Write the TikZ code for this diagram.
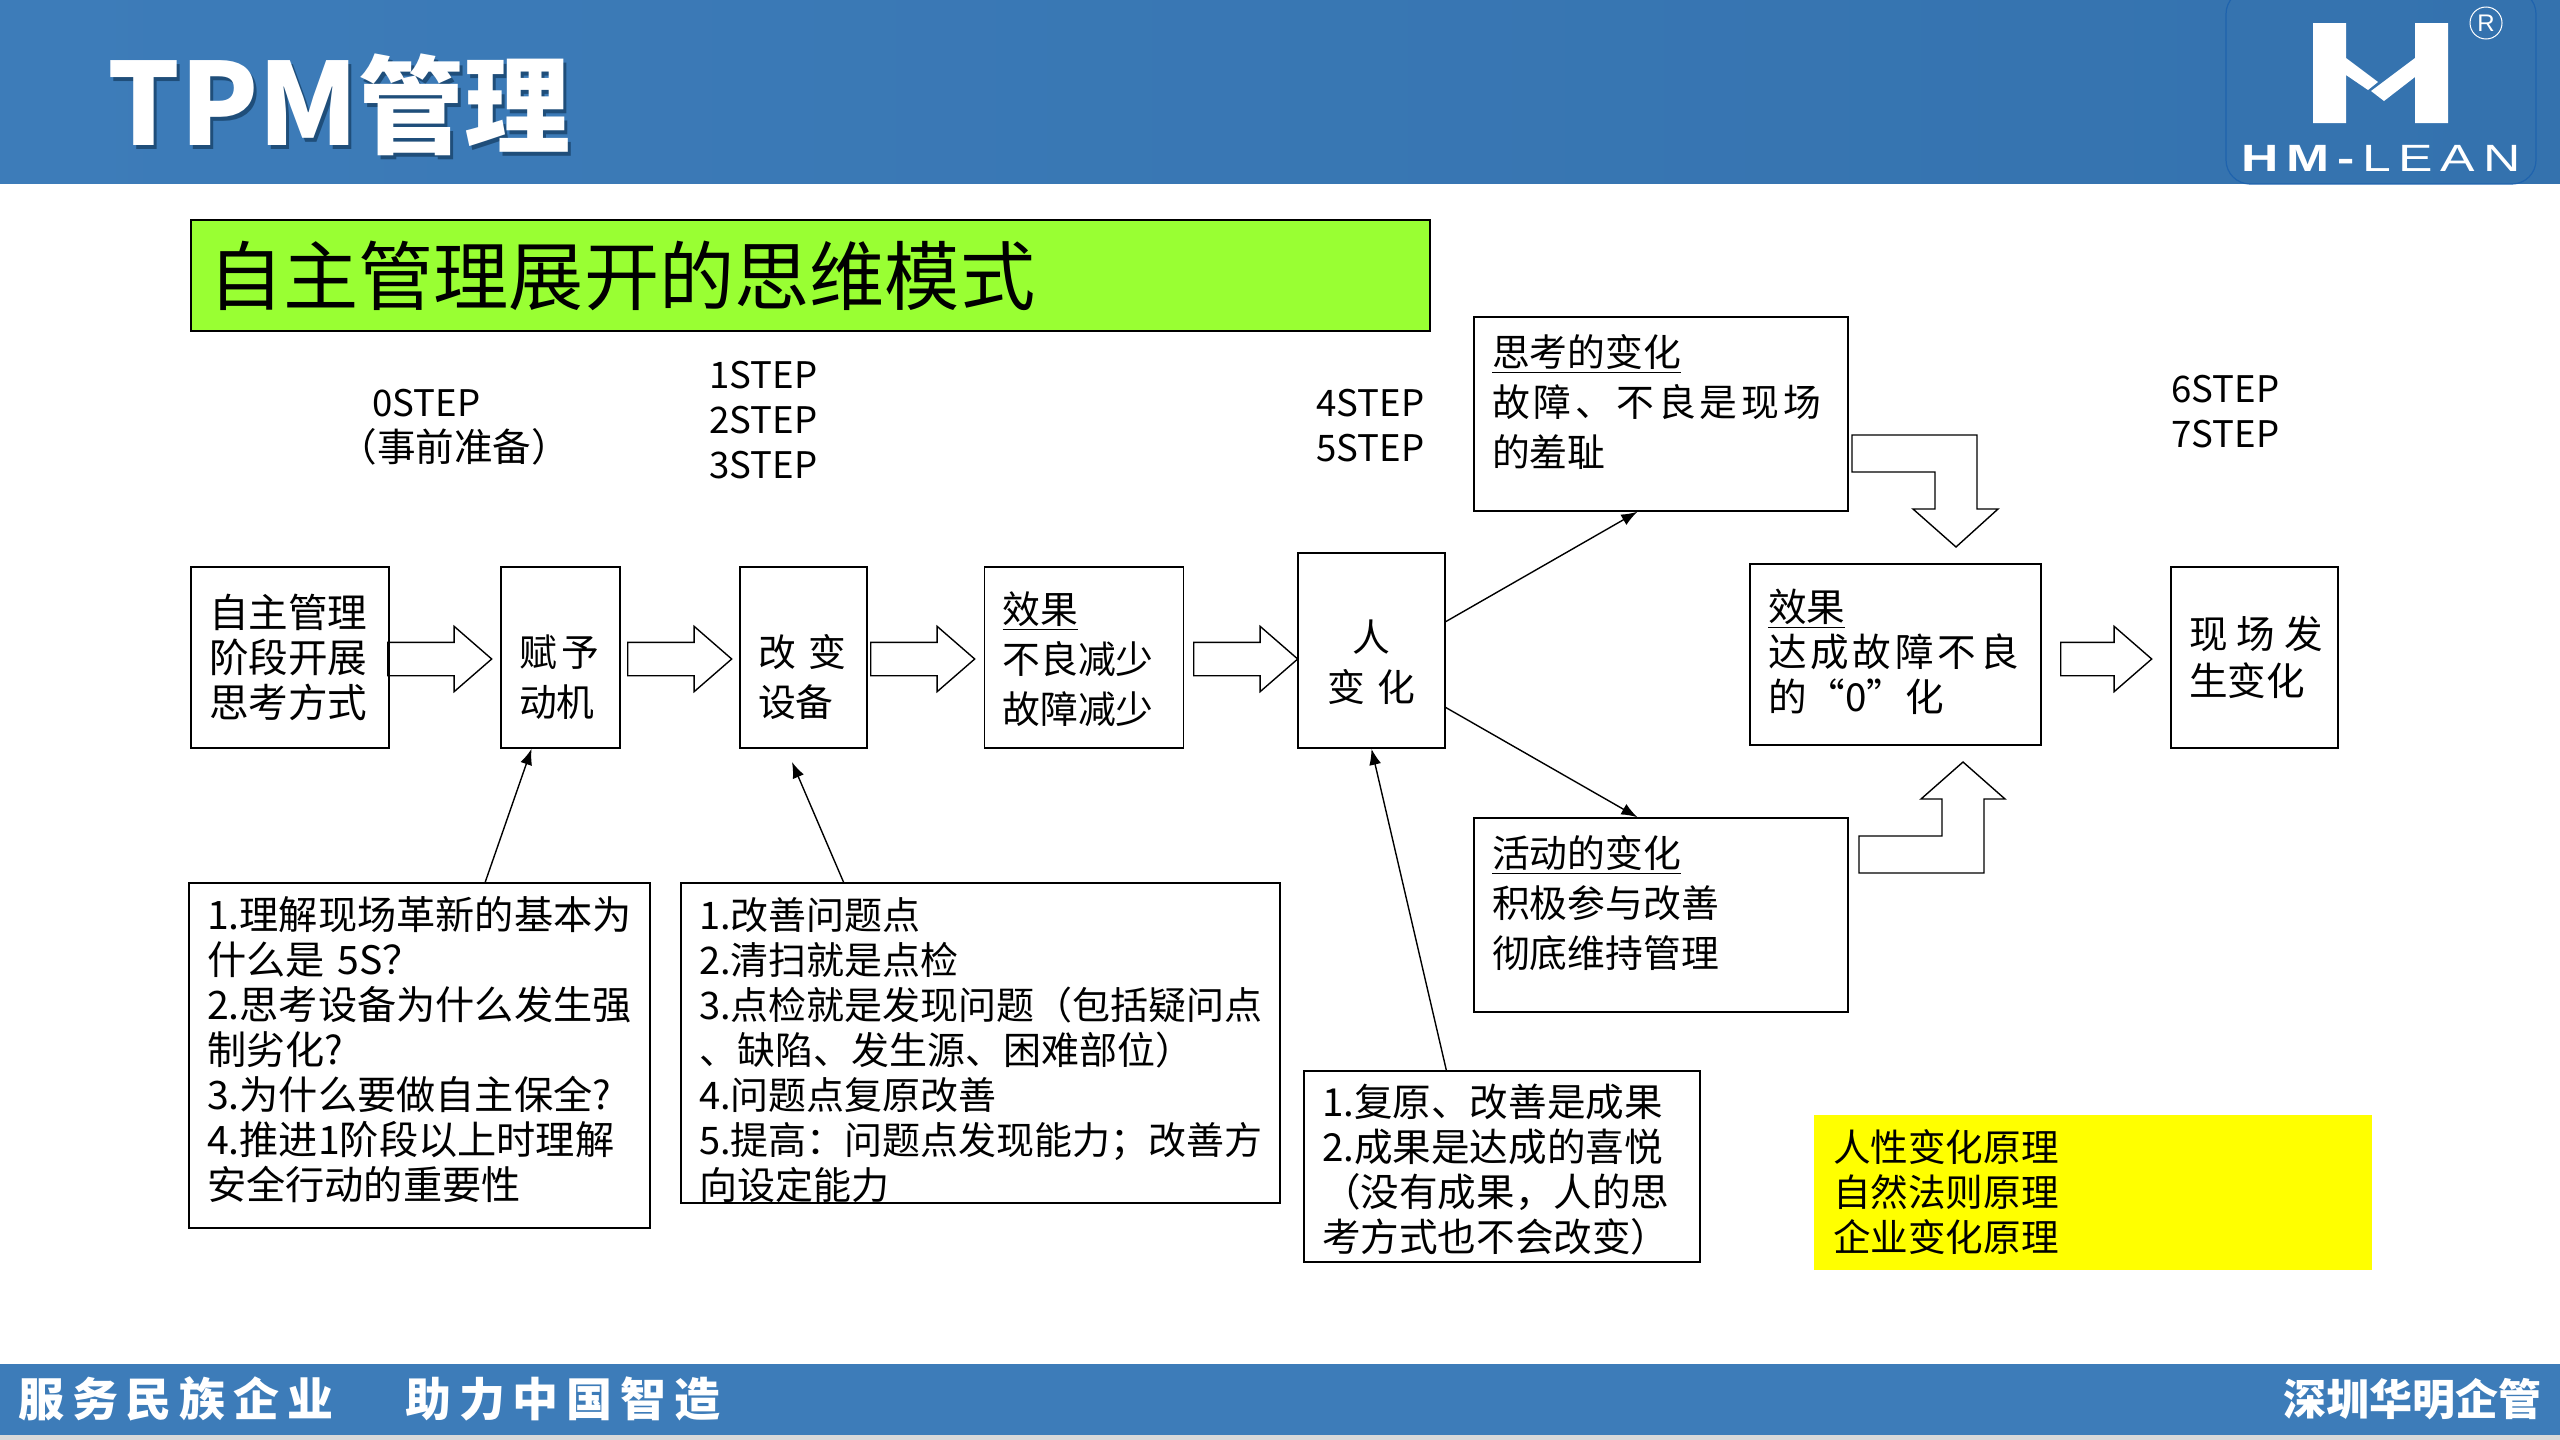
\documentclass[tikz,border=0pt]{standalone}
\usepackage{fontspec}
\setmainfont{Noto Sans CJK SC}
\newfontfamily\spfont[LetterSpace=10]{Noto Sans CJK SC}
\newfontfamily\footfont[LetterSpace=17]{Noto Sans CJK SC}
\newfontfamily\logofont[LetterSpace=15]{Liberation Sans}
\usetikzlibrary{arrows.meta,calc,shapes.arrows}
\definecolor{headblue}{HTML}{3D7CB9}
\definecolor{headdark}{HTML}{3472AE}
\definecolor{logoline}{HTML}{1F63AD}
\definecolor{titlegreen}{HTML}{99FF33}
\definecolor{noteyellow}{HTML}{FFFF00}
\definecolor{footgray}{HTML}{D9D9D9}
\definecolor{titleshadow}{HTML}{1F4E7A}
\tikzset{
  bodytext/.style={font=\fontsize{19.3}{22.5}\selectfont, align=left, inner sep=0pt},
  steptext/.style={bodytext, anchor=west, font=\fontsize{18.3}{22.5}\selectfont},
  textbox/.style n args={2}{draw, line width=.8pt, bodytext, inner xsep=9pt, inner ysep=0pt,
    minimum width=#1, minimum height=#2, text width=#1-18pt},
  widebox/.style n args={2}{textbox={#1}{#2}, font=\fontsize{18.9}{25}\selectfont},
  blockarrow/.style={draw, line width=.7pt, single arrow, anchor=tail, inner xsep=0pt, inner ysep=8pt,
    minimum width=32pt, single arrow head extend=8pt, single arrow tip angle=82},
  bentarrow/.style={draw, line width=.7pt, line join=miter},
  thinarrow/.style={line width=.7pt, -{Latex[length=8pt,width=6pt]}},
  footline/.style={font=\fontsize{23}{25}\selectfont\bfseries\footfont, text=white, inner sep=0pt, anchor=west}
}
\begin{document}
\begin{tikzpicture}[x=.5pt,y=-.5pt]
\useasboundingbox (0,0) rectangle (2560,1440);

% header and footer bands
\fill[left color=headblue, right color=headdark] (0,0) rectangle (2560,183);
\fill[headblue] (0,1364) rectangle (2560,1435);
\fill[footgray] (0,1435) rectangle (2560,1440);

\node[anchor=west, inner sep=0pt, text=white, font=\bfseries] (htitle) at (107,107)
  {\rlap{\kern1.5pt\raisebox{-1.8pt}{\color{titleshadow}\fontsize{57}{60}\selectfont TPM\fontsize{53}{60}\selectfont 管理}}\fontsize{57}{60}\selectfont TPM\fontsize{53}{60}\selectfont 管理};

% logo
\draw[logoline, line width=.6pt, rounded corners=12pt] (2226,-10) rectangle (2536,184);
\fill[white] (2313,23) -- (2346,23) -- (2346,58) -- (2378,82) -- (2368,90) -- (2346,75) -- (2346,123) -- (2313,123) -- cycle;
\fill[white] (2415,23) -- (2448,23) -- (2448,123) -- (2415,123) -- (2415,77) -- (2384,101) -- (2371,91) -- (2415,58) -- cycle;
\node[circle, draw=white, line width=.5pt, inner sep=0pt, minimum size=16pt, text=white,
  font=\fontsize{12}{12}\selectfont\logofont] (regmark) at (2486,23) {R};
\node[anchor=west, inner sep=0pt, text=white, font=\fontsize{19}{20}\selectfont\logofont] (logotext) at (2241,158)
  {\scalebox{1.36}[1]{\textbf{HM-}LEAN}};

\node[footline] (foot1) at (18,1399) {服务民族企业};
\node[footline] (foot2) at (405,1399) {助力中国智造};
\node[anchor=east, inner sep=0pt, text=white, font=\fontsize{21.5}{25}\selectfont\bfseries] (foot3) at (2542,1399) {深圳华明企管};

% title
\node[draw, line width=.8pt, fill=titlegreen, minimum width=619.5pt, minimum height=55.5pt,
  inner xsep=8.5pt, inner ysep=0pt, text width=602.5pt, align=left,
  font=\fontsize{37.6}{40}\selectfont] (maintitle) at (810.5,275.5) {自主管理展开的思维模式};

% step labels
\node[steptext] (step0) at (338,427) {\hspace{17pt}0STEP\\{\fontsize{19.3}{23}\selectfont（事前准备）}};
\node[steptext] (step1) at (709,420) {1STEP\\2STEP\\3STEP};
\node[steptext] (step4) at (1316,426) {4STEP\\5STEP};
\node[steptext] (step6) at (2171,412) {6STEP\\7STEP};

% main row
\node[textbox={99pt}{90.5pt}, font=\fontsize{19.8}{22.5}\selectfont] (start) at (290,657.5) {自主管理\\阶段开展\\思考方式};
\node[widebox={59.5pt}{90.5pt}] (motive) at (560.5,657.5) {\rule{0pt}{36pt}\mbox{赋\hspace{2.5pt}予}\\动机};
\node[widebox={63.5pt}{90.5pt}] (equip) at (803.5,657.5) {\rule{0pt}{36pt}\mbox{改 变}\\设备};
\node[widebox={99.5pt}{90.5pt}] (effect) at (1084,657.5) {\rule{0pt}{17.6pt}\underline{效果}\\不良减少\\故障减少};
\node[widebox={73.5pt}{97.5pt}, align=center] (people) at (1371.5,650.5) {\rule{0pt}{28pt}人\\变 化};
\node[textbox={145.5pt}{90.5pt}] (zero) at (1895.5,654.5) {\underline{效果}\\{\spfont 达成故障不良}\\的“0”化\rule[-4.6pt]{0pt}{0pt}};
\node[textbox={83.5pt}{90.5pt}, font=\fontsize{19.3}{23.7}\selectfont] (change) at (2254.5,657.5) {\mbox{现\hspace{4.5pt}场\hspace{4.5pt}发}\\生变化};

% upper and lower branches
\node[widebox={187pt}{97pt}] (think) at (1661,414) {\underline{思考的变化}\\{\spfont 故障、不良是现场}\\的羞耻\rule[-13.6pt]{0pt}{0pt}};
\node[widebox={187pt}{97pt}] (active) at (1661,915) {\underline{活动的变化}\\积极参与改善\\彻底维持管理\rule[-13.6pt]{0pt}{0pt}};

% notes
\node[textbox={230.5pt}{172.5pt}, font=\fontsize{19.6}{22.5}\selectfont] (note1) at (419.5,1055.5) {1.理解现场革新的基本为\\什么是 5S？\\2.思考设备为什么发生强\\制劣化?\\3.为什么要做自主保全?\\4.推进1阶段以上时理解\\安全行动的重要性\rule[-8pt]{0pt}{0pt}};
\node[textbox={299.5pt}{160pt}, font=\fontsize{19}{22.5}\selectfont] (note2) at (980.5,1043) {\rule{0pt}{23.4pt}1.改善问题点\\2.清扫就是点检\\3.点检就是发现问题（包括疑问点\\、缺陷、发生源、困难部位）\\4.问题点复原改善\\5.提高：问题点发现能力；改善方\\向设定能力};
\node[textbox={198pt}{95.5pt}] (note3) at (1502,1166.5) {\rule{0pt}{19.2pt}1.复原、改善是成果\\2.成果是达成的喜悦\\（没有成果，人的思\\考方式也不会改变）};
\node[fill=noteyellow, bodytext, font=\fontsize{18.8}{22.5}\selectfont, inner xsep=9.5pt, inner ysep=0pt, minimum width=279pt, minimum height=77.5pt,
  text width=260pt] (rules) at (2093,1192.5) {人性变化原理\\自然法则原理\\企业变化原理};

% hollow arrows
\foreach \x/\name in {387/ar1, 627/ar2, 870/ar3, 1193/ar4}
  \node[blockarrow, minimum height=52pt] (\name) at (\x,659) {};
\node[blockarrow, minimum height=45.5pt] (ar5) at (2060,659) {};

\draw[bentarrow] (1852,435) -- (1977,435) -- (1977,509) -- (1998,509) -- (1956,547) -- (1913,509) -- (1935,509) -- (1935,472) -- (1852,472) -- cycle;
\draw[bentarrow] (1859,873) -- (1984,873) -- (1984,799) -- (2005,799) -- (1963,762) -- (1921,799) -- (1942,799) -- (1942,836) -- (1859,836) -- cycle;

% thin connectors
\coordinate (equipend) at (792,762);
\draw[thinarrow] ($(note1.north west)!.642!(note1.north east)$) -- ($(motive.south west)!.26!(motive.south east)$);
\draw[thinarrow] ($(note2.north west)!.272!(note2.north east)$) -- (equipend);
\draw[thinarrow] ($(note3.north west)!.36!(note3.north east)$) -- (people.south);
\draw[thinarrow] ($(people.north east)!.353!(people.south east)$) -- ($(think.south west)!.437!(think.south east)$);
\draw[thinarrow] ($(people.north east)!.79!(people.south east)$) -- ($(active.north west)!.437!(active.north east)$);

\end{tikzpicture}
\end{document}
